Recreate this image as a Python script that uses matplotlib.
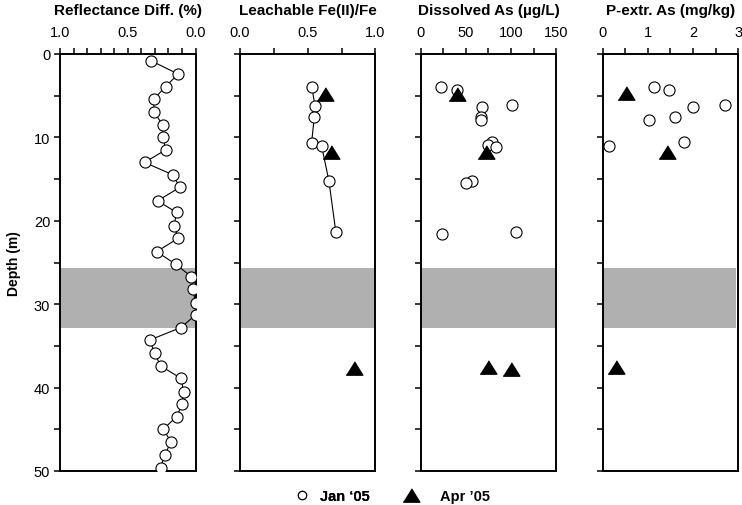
import matplotlib
matplotlib.use("Agg")
import matplotlib.pyplot as plt
from matplotlib.lines import Line2D

plt.rcParams['font.family'] = ['Liberation Sans', 'DejaVu Sans']

# ---------------- data ----------------
refl_depth = [0.8, 2.4, 3.9, 5.4, 6.9, 8.5, 9.9, 11.5, 13.0, 14.5, 16.0, 17.6, 19.0, 20.6,
              22.1, 23.7, 25.2, 26.7, 28.2, 29.9, 31.3, 32.8, 34.3, 35.9, 37.4, 38.9,
              40.5, 42.0, 43.5, 45.0, 46.5, 48.1, 49.6, 51.0]
refl_val = [0.33, 0.128, 0.22, 0.307, 0.307, 0.243, 0.239, 0.221, 0.376, 0.165, 0.116,
            0.28, 0.14, 0.158, 0.128, 0.287, 0.147, 0.03, 0.018, 0.0, 0.0, 0.108, 0.339,
            0.30, 0.258, 0.106, 0.088, 0.099, 0.14, 0.239, 0.18, 0.228, 0.258, 0.28]

fe_jan_depth = [4.0, 6.2, 7.6, 10.7, 11.0, 15.2, 21.3]
fe_jan_val = [0.531, 0.553, 0.548, 0.528, 0.602, 0.656, 0.707]
fe_apr_depth = [4.8, 11.7, 37.6]
fe_apr_val = [0.63, 0.675, 0.842]

as_jan_depth = [3.9, 4.3, 6.1, 6.4, 7.6, 7.9, 10.6, 10.9, 11.2, 15.2, 15.5, 21.6, 21.3]
as_jan_val = [22, 40, 101, 68, 67, 67, 78.5, 75, 83, 56.7, 49.6, 23.3, 105]
as_apr_depth = [4.8, 11.8, 37.5, 37.8]
as_apr_val = [40, 72, 75, 100]

pas_jan_depth = [3.96, 4.3, 6.1, 6.4, 7.6, 7.9, 10.6, 11.0]
pas_jan_val = [1.13, 1.47, 2.71, 2.01, 1.61, 1.02, 1.81, 0.15]
pas_apr_depth = [4.7, 11.7, 37.5]
pas_apr_val = [0.52, 1.42, 0.30]

band_top, band_bottom = 25.7, 32.9

titles = ["Reflectance Diff. (%)", "Leachable Fe(II)/Fe", "Dissolved As (\u00b5g/L)", "P-extr. As (mg/kg)"]
xlims = [(1.0, 0.0), (0.0, 1.0), (0.0, 150.0), (0.0, 3.0)]
major_ticks = [[1.0, 0.5, 0.0], [0.0, 0.5, 1.0], [0, 50, 100, 150], [0, 1, 2, 3]]
major_labels = [["1.0", "0.5", "0.0"], ["0.0", "0.5", "1.0"], ["0", "50", "100", "150"], ["0", "1", "2", "3"]]
minor_ticks = [[i / 10 for i in range(11)], [0, 0.25, 0.5, 0.75, 1.0],
               [0, 25, 50, 75, 100, 125, 150], [0, 0.5, 1, 1.5, 2, 2.5, 3]]
band_xmax = [1.0, 1.0, 1.0, 0.985]
depth_ticks = [0, 10, 20, 30, 40, 50]
depth_minor = [0, 5, 10, 15, 20, 25, 30, 35, 40, 45, 50]
legend_labels = ["Jan \u201805", "Apr \u201905"]

# ---------------- figure ----------------
fig = plt.figure(figsize=(7.42, 5.06), dpi=100)
lefts = [60, 240, 420.7, 602.7]
W, H = 742.0, 506.0
top_px, bot_px = 55.0, 472.0
axw = 135.5
axh = bot_px - top_px

axes = []
for i, lp in enumerate(lefts):
    ax = fig.add_axes([lp / W, 1 - bot_px / H, axw / W, axh / H])
    axes.append(ax)
    ax.set_xlim(*xlims[i])
    ax.set_ylim(50, 0)
    ax.axhspan(band_top, band_bottom, xmin=0, xmax=band_xmax[i], color='#b0b0b0', lw=0, zorder=1)
    ax.xaxis.tick_top()
    ax.set_xticks(major_ticks[i])
    ax.set_xticklabels(major_labels[i])
    ax.set_xticks(minor_ticks[i], minor=True)
    ax.set_yticks(depth_ticks)
    ax.set_yticks(depth_minor, minor=True)
    ax.tick_params(axis='both', which='both', direction='out', length=4, width=1.1,
                   labelsize=10.5)
    ax.tick_params(axis='x', which='both', pad=7)
    ax.tick_params(axis='y', which='both', pad=3)
    if i == 0:
        ax.set_yticklabels([str(d) for d in depth_ticks])
        ax.set_ylabel("Depth (m)", fontsize=10, fontweight='bold', labelpad=9)
    else:
        ax.set_yticklabels([])
    for s in ax.spines.values():
        s.set_linewidth(1.4)
    ax.text(0.5, 1 + (top_px - 11) / axh, titles[i], transform=ax.transAxes,
            ha='center', va='center', fontsize=11, fontweight='bold')

tri_marker = [(-1, -0.8), (1, -0.8), (0, 0.8)]
circle_kw = dict(marker='o', markersize=8, markerfacecolor='white', markeredgecolor='black',
                 markeredgewidth=0.8, linestyle='none', zorder=4)
tri_kw = dict(marker=tri_marker, markersize=12, color='black', linestyle='none', zorder=5)

ax = axes[0]
ax.plot(refl_val, refl_depth, color='black', lw=0.8, zorder=3)
ax.plot(refl_val, refl_depth, **circle_kw)

ax = axes[1]
ax.plot(fe_jan_val, fe_jan_depth, color='black', lw=0.8, zorder=3)
ax.plot(fe_jan_val, fe_jan_depth, **circle_kw)
ax.plot(fe_apr_val, fe_apr_depth, **tri_kw)

ax = axes[2]
ax.plot(as_jan_val, as_jan_depth, **circle_kw)
ax.plot(as_apr_val, as_apr_depth, **tri_kw)

ax = axes[3]
ax.plot(pas_jan_val, pas_jan_depth, **circle_kw)
ax.plot(pas_apr_val, pas_apr_depth, **tri_kw)

h_jan = Line2D([], [], marker='o', markersize=6, markerfacecolor='white',
               markeredgecolor='black', markeredgewidth=0.8, linestyle='none')
h_apr = Line2D([], [], marker=tri_marker, markersize=12, color='black', linestyle='none')
fs = 10.5
em = fs * 100 / 72.0
leg_common = dict(loc='center left', frameon=False, prop={'weight': 'bold', 'size': fs},
                  borderpad=0, borderaxespad=0, handlelength=1.0)
leg1 = fig.legend([h_jan], [legend_labels[0]], bbox_to_anchor=((302 - 0.5 * em) / W, 1 - 497 / H),
                  handletextpad=0.75, **leg_common)
fig.add_artist(leg1)
leg2 = fig.legend([h_apr], [legend_labels[1]], bbox_to_anchor=((411 - 0.5 * em) / W, 1 - 497 / H),
                  handletextpad=1.5, **leg_common)

fig.savefig("out.png", dpi=100)
